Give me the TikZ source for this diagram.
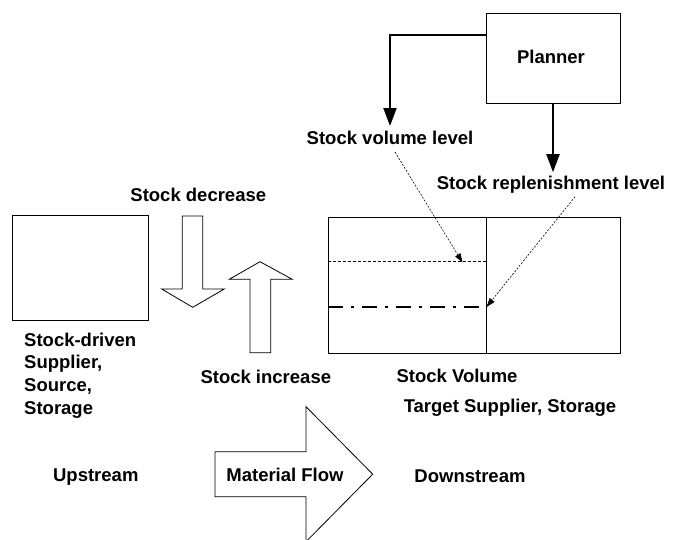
\documentclass[tikz,border=0pt]{standalone}
\usepackage{fontspec}
\setmainfont{Liberation Sans}
\usetikzlibrary{arrows.meta}
\begin{document}
\begin{tikzpicture}[x=1pt,y=-1pt,
  lbl/.style={font=\fontsize{18.5}{22.7}\selectfont\bfseries, inner sep=0pt},
  boxn/.style={draw, line width=1pt, inner sep=0pt},
  thickarr/.style={line width=2pt, -{Triangle[length=18pt,width=13pt]}},
  dotarr/.style={line width=0.6pt, dash pattern=on 2pt off 1.5pt, -{Triangle[length=9pt,width=6pt]}},
  blockarr/.style={draw, line width=0.8pt, fill=white, line join=miter}
]
\useasboundingbox (0,0) rectangle (678,539);
% boxes
\node[boxn, minimum width=134pt, minimum height=90pt] (planner) at (553,58) {};
\node[lbl] at (551,57) {Planner};
\node[boxn, minimum width=136pt, minimum height=105pt] (src) at (80.3,268.4) {};
\node[boxn, minimum width=158pt, minimum height=136pt] (svl) at (407,285) {};
\node[boxn, minimum width=134pt, minimum height=136pt] (svr) at (553,285) {};
% texts
\node[lbl] (vltxt) at (390,138) {Stock volume level};
\node[lbl] (rltxt) at (551,185) {Stock replenishment level};
\node[lbl] (dectxt) at (198.3,195) {Stock decrease};
\node[lbl] (inctxt) at (265.8,376.7) {Stock increase};
\node[lbl, anchor=west, align=left, text width=150pt] (srctxt) at (24,375.5) {Stock-driven\\Supplier,\\Source,\\Storage};
\node[lbl] (svtxt) at (457,375.7) {Stock Volume};
\node[lbl] (tgttxt) at (510,407.7) {Target Supplier, Storage};
\node[lbl] (uptxt) at (95.8,476.7) {Upstream};
\node[lbl] (dntxt) at (470,476.7) {Downstream};
% level lines
\coordinate (dashL) at (svl.west |- 0,261.7);
\coordinate (dashR) at (svl.east |- 0,261.7);
\coordinate (ddL) at (svl.west |- 0,307);
\coordinate (ddR) at (svl.east |- 0,307);
\draw[line width=1.5pt, dash pattern=on 3pt off 2pt] (dashL) -- (dashR);
\draw[line width=2pt, dash pattern=on 15pt off 8pt on 3pt off 8pt] (ddL) -- (ddR);
% planner arrows
\coordinate (pl1) at ([yshift=-22pt]planner.north west);
\draw[thickarr] (pl1) -| ([yshift=5pt]vltxt.north);
\draw[thickarr] (planner.south) -- ([yshift=4pt]rltxt.north -| planner.south);
% dotted arrows
\coordinate (dv) at (462.5,262.5);
\draw[dotarr] ([xshift=5pt,yshift=-7pt]vltxt.south) -- (dv);
\draw[dotarr] (575,196.7) -- (ddR);
% block arrows
\draw[blockarr] (182.3,216) -- (202.7,216) -- (202.7,289) -- (224.3,289) -- (192.7,307.3)
  -- (161.7,289) -- (182.3,289) -- cycle;
\draw[blockarr] (250,352.7) -- (250,279.3) -- (229.3,279.3) -- (260,261.7) -- (292.3,279.3)
  -- (270.7,279.3) -- (270.7,352.7) -- cycle;
\draw[blockarr] (215,451.7) -- (306,451.7) -- (306,406.7) -- (372.7,474.2) -- (306,541.7)
  -- (306,496.7) -- (215,496.7) -- cycle;
\node[lbl] (mftxt) at (285,475) {Material Flow};
\end{tikzpicture}
\end{document}
